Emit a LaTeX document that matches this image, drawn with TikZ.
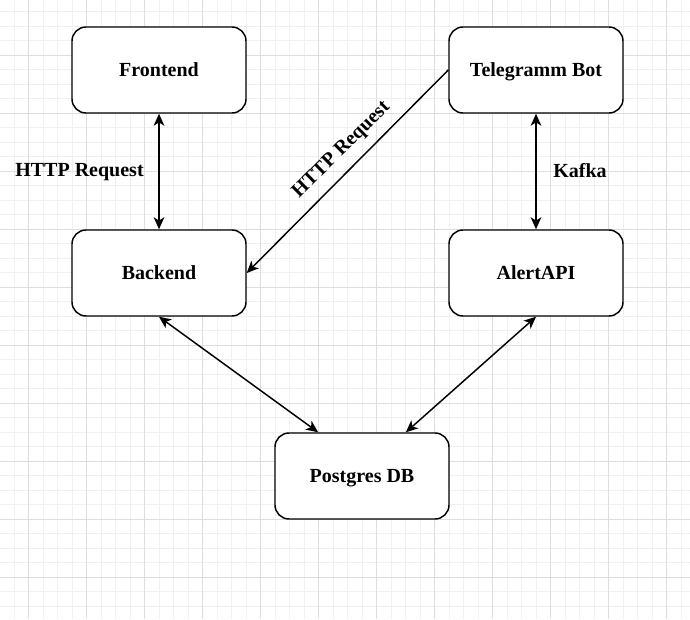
\documentclass[tikz,border=0pt]{standalone}
\usepackage{fontspec}
\setmainfont{Liberation Serif}
\usetikzlibrary{arrows.meta,calc}
\begin{document}
\begin{tikzpicture}[x=0.75pt,y=-0.75pt,
  box/.style={draw=black,line width=1.1pt,rounded corners=10.5pt,fill=white,
    minimum width=130.5pt,minimum height=64.5pt,font=\fontsize{15}{18}\selectfont\bfseries,inner sep=0pt,
    text height=11pt,text depth=2pt},
  lbl/.style={font=\fontsize{15}{18}\selectfont\bfseries,inner sep=1pt,text height=11pt,text depth=2pt},
  conn/.style={line width=1.1pt,draw=black},
  dbl/.style={conn,{Stealth[length=9pt,width=8pt,inset=2.5pt]}-{Stealth[length=9pt,width=8pt,inset=2.5pt]}},
  sgl/.style={conn,-{Stealth[length=9pt,width=8pt,inset=2.5pt]}},
  minorg/.style={line width=0.75pt,draw={rgb,255:red,240;green,240;blue,240}},
  majorg/.style={line width=0.75pt,draw={rgb,255:red,222;green,222;blue,222}}
]
\useasboundingbox (0,0) rectangle (690,619);
\fill[white] (0,0) rectangle (690,619);
\begin{scope}
\clip (0,0) rectangle (690,619);
\foreach \k in {-2,...,47} {
  \draw[minorg] ({28.7+14.5*\k},0) -- ({28.7+14.5*\k},619);
  \draw[minorg] (0,{-2.7+14.5*\k}) -- (690,{-2.7+14.5*\k});
}
\foreach \k in {-1,...,12} {
  \draw[majorg] ({28.7+58*\k},0) -- ({28.7+58*\k},619);
  \draw[majorg] (0,{-2.7+58*\k}) -- (690,{-2.7+58*\k});
}
\end{scope}

\node[box] (F) at (159,70) {Frontend};
\node[box] (T) at (536,70) {Telegramm Bot};
\node[box] (B) at (159,273) {Backend};
\node[box] (A) at (536,273) {AlertAPI};
\node[box] (P) at (362,476) {Postgres DB};

\draw[dbl] (F.south) -- (B.north);
\draw[dbl] (T.south) -- (A.north);
\draw[sgl] (T.west) -- (B.east);
\draw[dbl] (B.south) -- ($(P.north west)!0.25!(P.north east)$);
\draw[dbl] (A.south) -- ($(P.north west)!0.75!(P.north east)$);

\node[lbl] (l1) at (79.5,170) {HTTP Request};
\node[lbl] (l2) at (580,171) {Kafka};
\node[lbl,rotate=44.6] (l3) at (340.5,149) {HTTP Request};
\end{tikzpicture}
\end{document}
